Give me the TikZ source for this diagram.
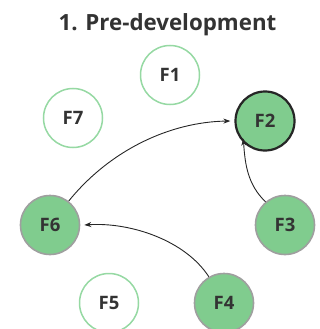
\documentclass[tikz,border=0pt]{standalone}
\usepackage{fontspec}
\setmainfont{Open Sans}
\usetikzlibrary{arrows.meta}
\definecolor{ngreen}{HTML}{80CC8E}
\definecolor{lgreen}{HTML}{96D9A3}
\definecolor{dgray}{HTML}{333333}
\tikzset{
  fnode/.style={circle,minimum size=59pt,inner sep=0pt,font=\bfseries\fontsize{18.5}{22}\selectfont,text=dgray},
  emptyf/.style={fnode,draw=lgreen,line width=1.5pt,fill=white},
  fullf/.style={fnode,draw=gray!75,line width=1.6pt,fill=ngreen},
  mainf/.style={fnode,draw=black!85,line width=2.2pt,fill=ngreen},
  link/.style={-{Stealth[length=7pt,width=5pt]},line width=0.9pt,draw=black!85}
}
\begin{document}
\begin{tikzpicture}[x=1pt,y=-1pt]
\useasboundingbox (0,0) rectangle (320,329);
\node[font=\bfseries\fontsize{22.3}{26}\selectfont,text=dgray,anchor=base,inner sep=0pt] (title) at (167.5,31) {1. Pre-development};
\node[emptyf] (F1) at (170,75) {F1};
\node[mainf] (F2) at (265,121) {F2};
\node[fullf] (F3) at (285,225) {F3};
\node[fullf] (F4) at (224,303) {F4};
\node[emptyf] (F5) at (109,303) {F5};
\node[fullf] (F6) at (50,225) {F6};
\node[emptyf] (F7) at (73,118) {F7};
\draw[link] (F6.52) .. controls (110,150) and (170,122) .. ([xshift=-4pt]F2.west);
\draw[link] (F3.130) .. controls (248,185) and (245,165) .. ([yshift=4pt]F2.south west);
\draw[link] (F4.120) .. controls (185,240) and (130,222) .. ([xshift=4pt]F6.east);
\end{tikzpicture}
\end{document}
